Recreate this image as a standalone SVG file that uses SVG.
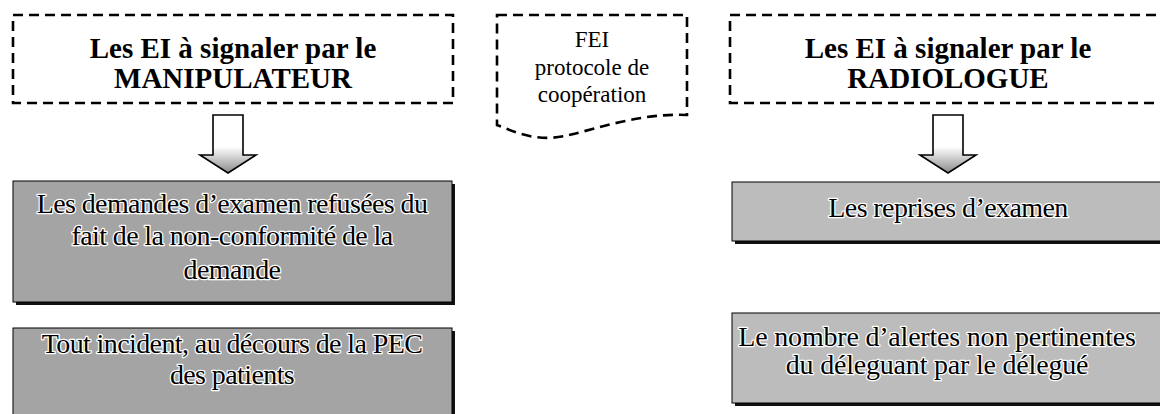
<svg xmlns="http://www.w3.org/2000/svg" width="1160" height="414" viewBox="0 0 1160 414">
<defs>
<style>
.dash{fill:none;stroke:#000;stroke-width:2.6;stroke-dasharray:10 6}
.hdr{font-family:"Liberation Serif","Times New Roman",serif;font-weight:bold;font-size:29px;fill:#000;text-anchor:middle}
.fei{font-family:"Liberation Serif","Times New Roman",serif;font-size:23px;fill:#000;text-anchor:middle}
.box{stroke:#000;stroke-width:1}
.boxL{fill:#a4a4a4}
.boxR{fill:#bcbcbc}
.shadow{fill:#111}
.lbl{font-family:"Liberation Serif","Times New Roman",serif;font-size:28px;fill:#000;text-anchor:middle;stroke:#fff;stroke-width:2.5;paint-order:stroke;stroke-linejoin:round;letter-spacing:-0.6px}
.arrow{stroke:#000;stroke-width:1.6;fill:url(#ag)}
</style>
<linearGradient id="ag" x1="0" y1="0" x2="0" y2="1">
<stop offset="0" stop-color="#fff"/>
<stop offset="0.55" stop-color="#fff"/>
<stop offset="1" stop-color="#8a8a8a"/>
</linearGradient>
</defs>
<rect width="1160" height="414" fill="#fff"/>

<g id="hdr-manip">
<rect class="dash" x="13" y="15" width="440" height="88"/>
<text class="hdr" x="233" y="58">Les EI à signaler par le</text>
<text class="hdr" x="233" y="88">MANIPULATEUR</text>
</g>

<g id="fei">
<path class="dash" d="M497,15 H687 V115 C640,113 600,128 565,136 C535,142 515,132 497,125 Z"/>
<text class="fei" x="592" y="47">FEI</text>
<text class="fei" x="592" y="75">protocole de</text>
<text class="fei" x="592" y="102">coopération</text>
</g>

<g id="hdr-radio">
<rect class="dash" x="730" y="15" width="440" height="88"/>
<text class="hdr" x="948" y="58">Les EI à signaler par le</text>
<text class="hdr" x="948" y="88">RADIOLOGUE</text>
</g>

<g id="connectors">
<path class="arrow" d="M213,115 H243 V155 H256 L228,173 L200,155 H213 Z"/>
<path class="arrow" d="M933,115 H963 V155 H976 L948,173 L920,155 H933 Z"/>
</g>

<g id="box-demandes">
<rect class="shadow" x="16" y="184" width="439" height="121"/>
<rect class="box boxL" x="13" y="181" width="439" height="121"/>
<text class="lbl" x="232" y="213">Les demandes d’examen refusées du</text>
<text class="lbl" x="232" y="245">fait de la non-conformité de la</text>
<text class="lbl" x="232" y="279">demande</text>
</g>

<g id="box-incident">
<rect class="shadow" x="16" y="331" width="439" height="100"/>
<rect class="box boxL" x="13" y="328" width="439" height="100"/>
<text class="lbl" x="232" y="353">Tout incident, au décours de la PEC</text>
<text class="lbl" x="232" y="384">des patients</text>
</g>

<g id="box-reprises">
<rect class="shadow" x="735" y="185" width="440" height="59"/>
<rect class="box boxR" x="732" y="182" width="440" height="59"/>
<text class="lbl" x="948" y="217">Les reprises d’examen</text>
</g>

<g id="box-alertes">
<rect class="shadow" x="735" y="316" width="440" height="90"/>
<rect class="box boxR" x="732" y="313" width="440" height="90"/>
<text class="lbl" x="937" y="346" style="letter-spacing:-0.2px">Le nombre d’alertes non pertinentes</text>
<text class="lbl" x="937" y="374" style="letter-spacing:-0.2px">du déleguant par le délegué</text>
</g>
</svg>
